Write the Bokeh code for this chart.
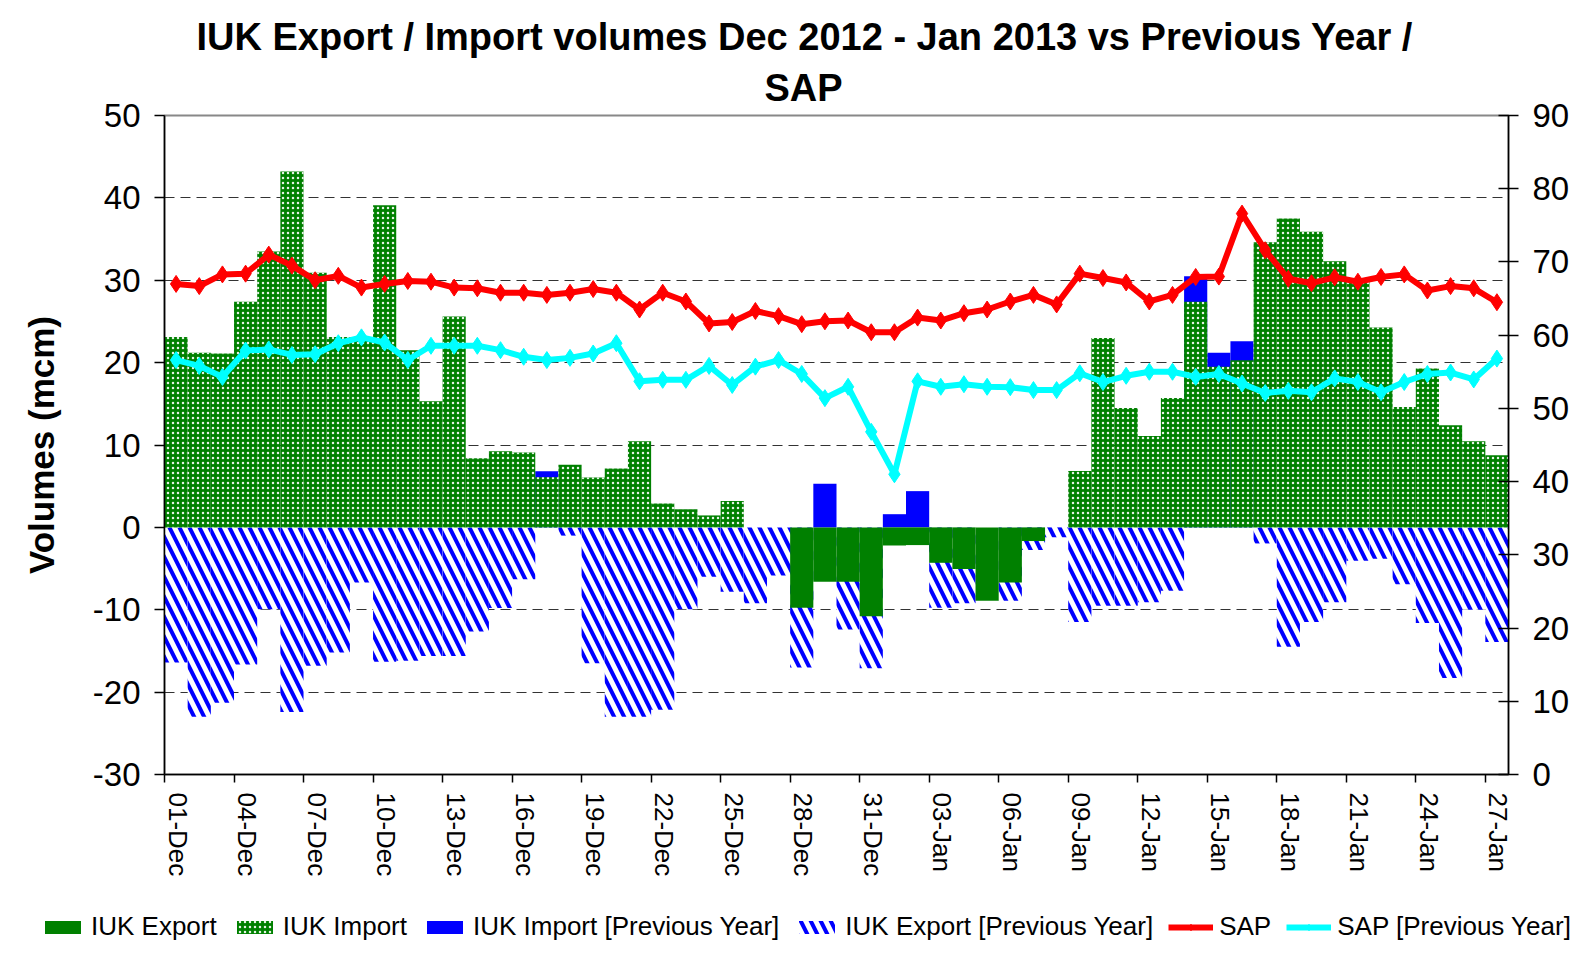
import math
from bokeh.plotting import figure
from bokeh.layouts import column
from bokeh.models import (Range1d, LinearAxis, FixedTicker, Legend, LegendItem, Title,
                          Grid, CustomJSTickFormatter, ColumnDataSource)
from bokeh.embed import file_html
from bokeh.resources import INLINE

# ---------------- data ----------------
dates = ["01-Dec", "02-Dec", "03-Dec", "04-Dec", "05-Dec", "06-Dec", "07-Dec", "08-Dec",
         "09-Dec", "10-Dec", "11-Dec", "12-Dec", "13-Dec", "14-Dec", "15-Dec", "16-Dec",
         "17-Dec", "18-Dec", "19-Dec", "20-Dec", "21-Dec", "22-Dec", "23-Dec", "24-Dec",
         "25-Dec", "26-Dec", "27-Dec", "28-Dec", "29-Dec", "30-Dec", "31-Dec",
         "01-Jan", "02-Jan", "03-Jan", "04-Jan", "05-Jan", "06-Jan", "07-Jan", "08-Jan",
         "09-Jan", "10-Jan", "11-Jan", "12-Jan", "13-Jan", "14-Jan", "15-Jan", "16-Jan",
         "17-Jan", "18-Jan", "19-Jan", "20-Jan", "21-Jan", "22-Jan", "23-Jan", "24-Jan",
         "25-Jan", "26-Jan", "27-Jan"]

iuk_import = [23.1, 21.2, 21.1, 27.4, 33.5, 43.2, 30.9, 23.1, 23.1, 39.1,
              21.5, 15.3, 25.6, 8.4, 9.25, 9.1, 6.1, 7.6, 6.05, 7.15,
              10.45, 2.9, 2.2, 1.45, 3.2, 0, 0, 0, 0, 0,
              0, 0, 0, 0, 0, 0, 0, 0, 0, 6.85,
              23.0, 14.5, 11.1, 15.7, 27.4, 19.5, 20.3, 34.6, 37.5, 35.9,
              32.3, 30.0, 24.25, 14.6, 19.3, 12.4, 10.45, 8.75]

iuk_export = [0, 0, 0, 0, 0, 0, 0, 0, 0, 0,
              0, 0, 0, 0, 0, 0, 0, 0, 0, 0,
              0, 0, 0, 0, 0, 0, 0, -9.75, -6.6, -6.6,
              -10.8, -2.2, -2.15, -4.3, -5.05, -8.9, -6.7, -1.66, 0, 0,
              0, 0, 0, 0, 0, 0, 0, 0, 0, 0,
              0, 0, 0, 0, 0, 0, 0, 0]

import_prev = [0, 0, 0, 0, 0, 0, 0, 0, 0, 0,
               0, 0, 0, 0, 0, 0, 6.8, 0, 0, 0,
               0, 0, 0, 0, 0, 0, 0, 0, 5.3, 0,
               0, 1.6, 4.4, 0, 0, 0, 0, 0, 0, 0,
               0, 0, 0, 0, 30.5, 21.2, 22.6, 0, 0, 0,
               0, 0, 0, 0, 0, 0, 0, 0]

export_prev = [-16.4, -23.0, -21.3, -16.65, -9.95, -22.4, -16.8, -15.2, -6.7, -16.3,
               -16.2, -15.6, -15.6, -12.65, -9.8, -6.3, 0, -1.0, -16.5, -23.0,
               -23.0, -22.15, -9.95, -6.0, -7.8, -9.2, -5.85, -17.0, 0, -12.4,
               -17.1, 0, 0, -9.75, -9.2, 0, -8.9, -2.75, -1.2, -11.5,
               -9.5, -9.5, -9.1, -7.7, 0, 0, 0, -1.95, -14.5, -11.5,
               -9.1, -4.05, -3.8, -6.9, -11.6, -18.3, -10.0, -13.9]

sap = [67.0, 66.7, 68.3, 68.4, 71.0, 69.5, 67.5, 68.1, 66.5, 67.0,
       67.4, 67.3, 66.5, 66.4, 65.8, 65.8, 65.5, 65.8, 66.3, 65.8,
       63.5, 65.8, 64.6, 61.6, 61.8, 63.3, 62.6, 61.5, 61.9, 62.0,
       60.4, 60.4, 62.4, 62.0, 63.0, 63.5, 64.6, 65.5, 64.2, 68.4,
       67.8, 67.2, 64.6, 65.5, 67.95, 68.0, 76.6, 71.6, 67.7, 67.1,
       67.9, 67.3, 67.95, 68.3, 66.1, 66.7, 66.4, 64.5]

sap_prev = [56.6, 55.8, 54.3, 57.9, 58.05, 57.3, 57.4, 58.9, 59.7, 59.0,
            56.6, 58.55, 58.55, 58.55, 57.95, 57.05, 56.6, 56.9, 57.5, 58.9,
            53.7, 53.9, 53.9, 55.8, 53.2, 55.7, 56.6, 54.7, 51.4, 52.95,
            46.8, 41.0, 53.7, 52.95, 53.3, 52.95, 52.9, 52.5, 52.5, 54.8,
            53.6, 54.45, 55.0, 55.0, 54.3, 54.7, 53.4, 52.1, 52.4, 52.2,
            54.1, 53.6, 52.2, 53.6, 54.7, 54.9, 53.95, 56.8]

title_line1 = "IUK Export / Import volumes Dec 2012 - Jan 2013 vs Previous Year /"
title_line2 = "SAP"
legend_labels = ["IUK Export", "IUK Import", "IUK Import [Previous Year]",
                 "IUK Export [Previous Year]", "SAP", "SAP [Previous Year]"]
left_ticks = [-30, -20, -10, 0, 10, 20, 30, 40, 50]
grid_ticks = [-20, -10, 10, 20, 30, 40]
right_ticks = [0, 10, 20, 30, 40, 50, 60, 70, 80, 90]
label_every = 3

# ---------------- styles ----------------
FONT = "Liberation Sans"
GREEN = "#008000"
BLUE = "#0000FF"
RED = "#FF0000"
CYAN = "#00FFFF"
imp_style = dict(fill_color=GREEN, line_color=None, hatch_pattern="dot", hatch_color="white",
                 hatch_scale=5, hatch_alpha=0.9)
exp_style = dict(fill_color=GREEN, line_color=None)
imp_py_style = dict(fill_color=BLUE, line_color=None)
exp_py_style = dict(fill_color="white", line_color=None, hatch_pattern="\\", hatch_color=BLUE,
                    hatch_scale=20, hatch_weight=4)


def no_frame_align(fig):
    try:
        fig.frame_align = False
    except Exception:
        pass


# ---------------- main figure ----------------
n = len(dates)
xc = [i + 0.5 for i in range(n)]
src = ColumnDataSource(dict(x=xc, imp=iuk_import, exp=iuk_export, imp_py=import_prev,
                            exp_py=export_prev, sap=sap, sap_py=sap_prev))

p = figure(width=1595, height=895, output_backend="svg", toolbar_location=None,
           x_range=Range1d(0, n), y_range=Range1d(left_ticks[0], left_ticks[-1]),
           x_axis_location=None, y_axis_location=None,
           min_border_left=164, min_border_right=87, min_border_top=115, min_border_bottom=121)
no_frame_align(p)
p.extra_y_ranges = {"sap": Range1d(right_ticks[0], right_ticks[-1])}
p.xgrid.visible = False
p.ygrid.visible = False
p.background_fill_color = "white"
p.border_fill_color = "white"
p.outline_line_color = "#888888"
p.outline_line_width = 2

# outer title line (p.title is placed farthest from the frame)
p.title.text = title_line1
p.title.align = "left"
p.title.offset = 32
p.title.text_font = FONT
p.title.text_font_size = "38px"
p.title.text_font_style = "bold"
p.title.text_color = "black"
p.title.standoff = 0
t2 = Title(text=title_line2, align="left", offset=600, text_font=FONT, text_font_size="38px",
           text_font_style="bold", text_color="black", standoff=14)
p.add_layout(t2, "above")

# grid
p.add_layout(Grid(dimension=1, ticker=FixedTicker(ticks=grid_ticks),
                  grid_line_color="#333333", grid_line_width=1.2, grid_line_dash="10 6"), "center")

# left axis
yl = LinearAxis(ticker=FixedTicker(ticks=left_ticks), axis_label="Volumes (mcm)",
                formatter=CustomJSTickFormatter(code="return tick.toFixed(0)"),
                axis_line_color="black", axis_line_width=1.5,
                major_tick_in=0, major_tick_out=10, major_tick_line_color="black",
                major_tick_line_width=1.5, minor_tick_line_color=None,
                major_label_text_font=FONT, major_label_text_font_size="33px",
                major_label_text_color="black", major_label_standoff=14,
                axis_label_text_font=FONT, axis_label_text_font_size="35px",
                axis_label_text_color="black",
                axis_label_text_font_style="bold", axis_label_standoff=29)
p.add_layout(yl, "left")

# right axis
yr = LinearAxis(y_range_name="sap", ticker=FixedTicker(ticks=right_ticks),
                formatter=CustomJSTickFormatter(code="return tick.toFixed(0)"),
                axis_line_color="black", axis_line_width=1.5,
                major_tick_in=10, major_tick_out=10, major_tick_line_color="black",
                major_tick_line_width=1.5, minor_tick_line_color=None,
                major_label_text_font=FONT, major_label_text_font_size="33px",
                major_label_text_color="black", major_label_standoff=14)
p.add_layout(yr, "right")

# bottom axis: tick marks at category boundaries (no labels)
tick_pos = list(range(0, n, label_every))
xa = LinearAxis(ticker=FixedTicker(ticks=tick_pos), axis_line_color="black", axis_line_width=1.5,
                major_tick_in=0, major_tick_out=8, major_tick_line_color="black",
                major_tick_line_width=1.5, minor_tick_line_color=None,
                formatter=CustomJSTickFormatter(code="return ''"),
                major_label_text_font_size="1px", major_label_standoff=0)
p.add_layout(xa, "below")
# bottom axis: date labels
lab_off = 0.5625
lab_pos = [t + lab_off for t in tick_pos]
xl = LinearAxis(ticker=FixedTicker(ticks=lab_pos), axis_line_color=None,
                major_tick_line_color=None, minor_tick_line_color=None,
                major_label_orientation=-math.pi / 2, major_label_standoff=4,
                major_label_text_font=FONT, major_label_text_font_size="26px",
                major_label_text_color="black",
                formatter=CustomJSTickFormatter(args=dict(labels=dates, off=lab_off),
                                                code="return labels[Math.round(tick - off)] || ''"))
p.add_layout(xl, "below")

# bars (drawn back to front)
p.vbar(x="x", top="imp_py", bottom=0, width=1, source=src, **imp_py_style)
p.vbar(x="x", top="exp_py", bottom=0, width=1, source=src, **exp_py_style)
p.vbar(x="x", top="imp", bottom=0, width=1, source=src, **imp_style)
p.vbar(x="x", top="exp", bottom=0, width=1, source=src, **exp_style)

# lines
p.line(x="x", y="sap", source=src, y_range_name="sap", line_color=RED, line_width=6)
p.scatter(x="x", y="sap", source=src, y_range_name="sap", marker="diamond",
          size=17, fill_color=RED, line_color=RED)
p.line(x="x", y="sap_py", source=src, y_range_name="sap", line_color=CYAN, line_width=6)
p.scatter(x="x", y="sap_py", source=src, y_range_name="sap", marker="diamond",
          size=17, fill_color=CYAN, line_color=CYAN)

# ---------------- legend strip ----------------
lg = figure(width=1595, height=70, output_backend="svg", toolbar_location=None,
            x_range=Range1d(0, 1), y_range=Range1d(0, 1),
            x_axis_location=None, y_axis_location=None, min_border=0)
no_frame_align(lg)
lg.xgrid.visible = False
lg.ygrid.visible = False
lg.outline_line_color = None
# swatch renderers sit outside the visible range; only their legend glyphs show
off = ColumnDataSource(dict(x=[-5, -4], y=[-5, -4]))
g_exp = lg.vbar(x="x", top="y", width=1, source=off, **exp_style)
g_imp = lg.vbar(x="x", top="y", width=1, source=off, **imp_style)
g_imp_py = lg.vbar(x="x", top="y", width=1, source=off, **imp_py_style)
g_exp_py = lg.vbar(x="x", top="y", width=1, source=off, **exp_py_style)
g_sap_l = lg.line(x="x", y="y", source=off, line_color=RED, line_width=6)
g_sap_m = lg.scatter(x="x", y="y", source=off, marker="diamond", size=17,
                     fill_color=RED, line_color=RED)
g_sapp_l = lg.line(x="x", y="y", source=off, line_color=CYAN, line_width=6)
g_sapp_m = lg.scatter(x="x", y="y", source=off, marker="diamond", size=17,
                      fill_color=CYAN, line_color=CYAN)

legend = Legend(items=[
    LegendItem(label=legend_labels[0], renderers=[g_exp], index=0),
    LegendItem(label=legend_labels[1], renderers=[g_imp], index=0),
    LegendItem(label=legend_labels[2], renderers=[g_imp_py], index=0),
    LegendItem(label=legend_labels[3], renderers=[g_exp_py], index=0),
    LegendItem(label=legend_labels[4], renderers=[g_sap_l, g_sap_m], index=0),
    LegendItem(label=legend_labels[5], renderers=[g_sapp_l, g_sapp_m], index=0),
], orientation="horizontal", location=(40, 23),
    label_text_font=FONT, label_text_font_size="26px", label_text_color="black",
    glyph_width=45, glyph_height=16, label_standoff=6, spacing=15,
    padding=0, margin=0, border_line_color=None, background_fill_alpha=0)
lg.add_layout(legend, "center")

layout = column(p, lg, spacing=0)
open("out.html", "w").write(file_html(layout, INLINE))
